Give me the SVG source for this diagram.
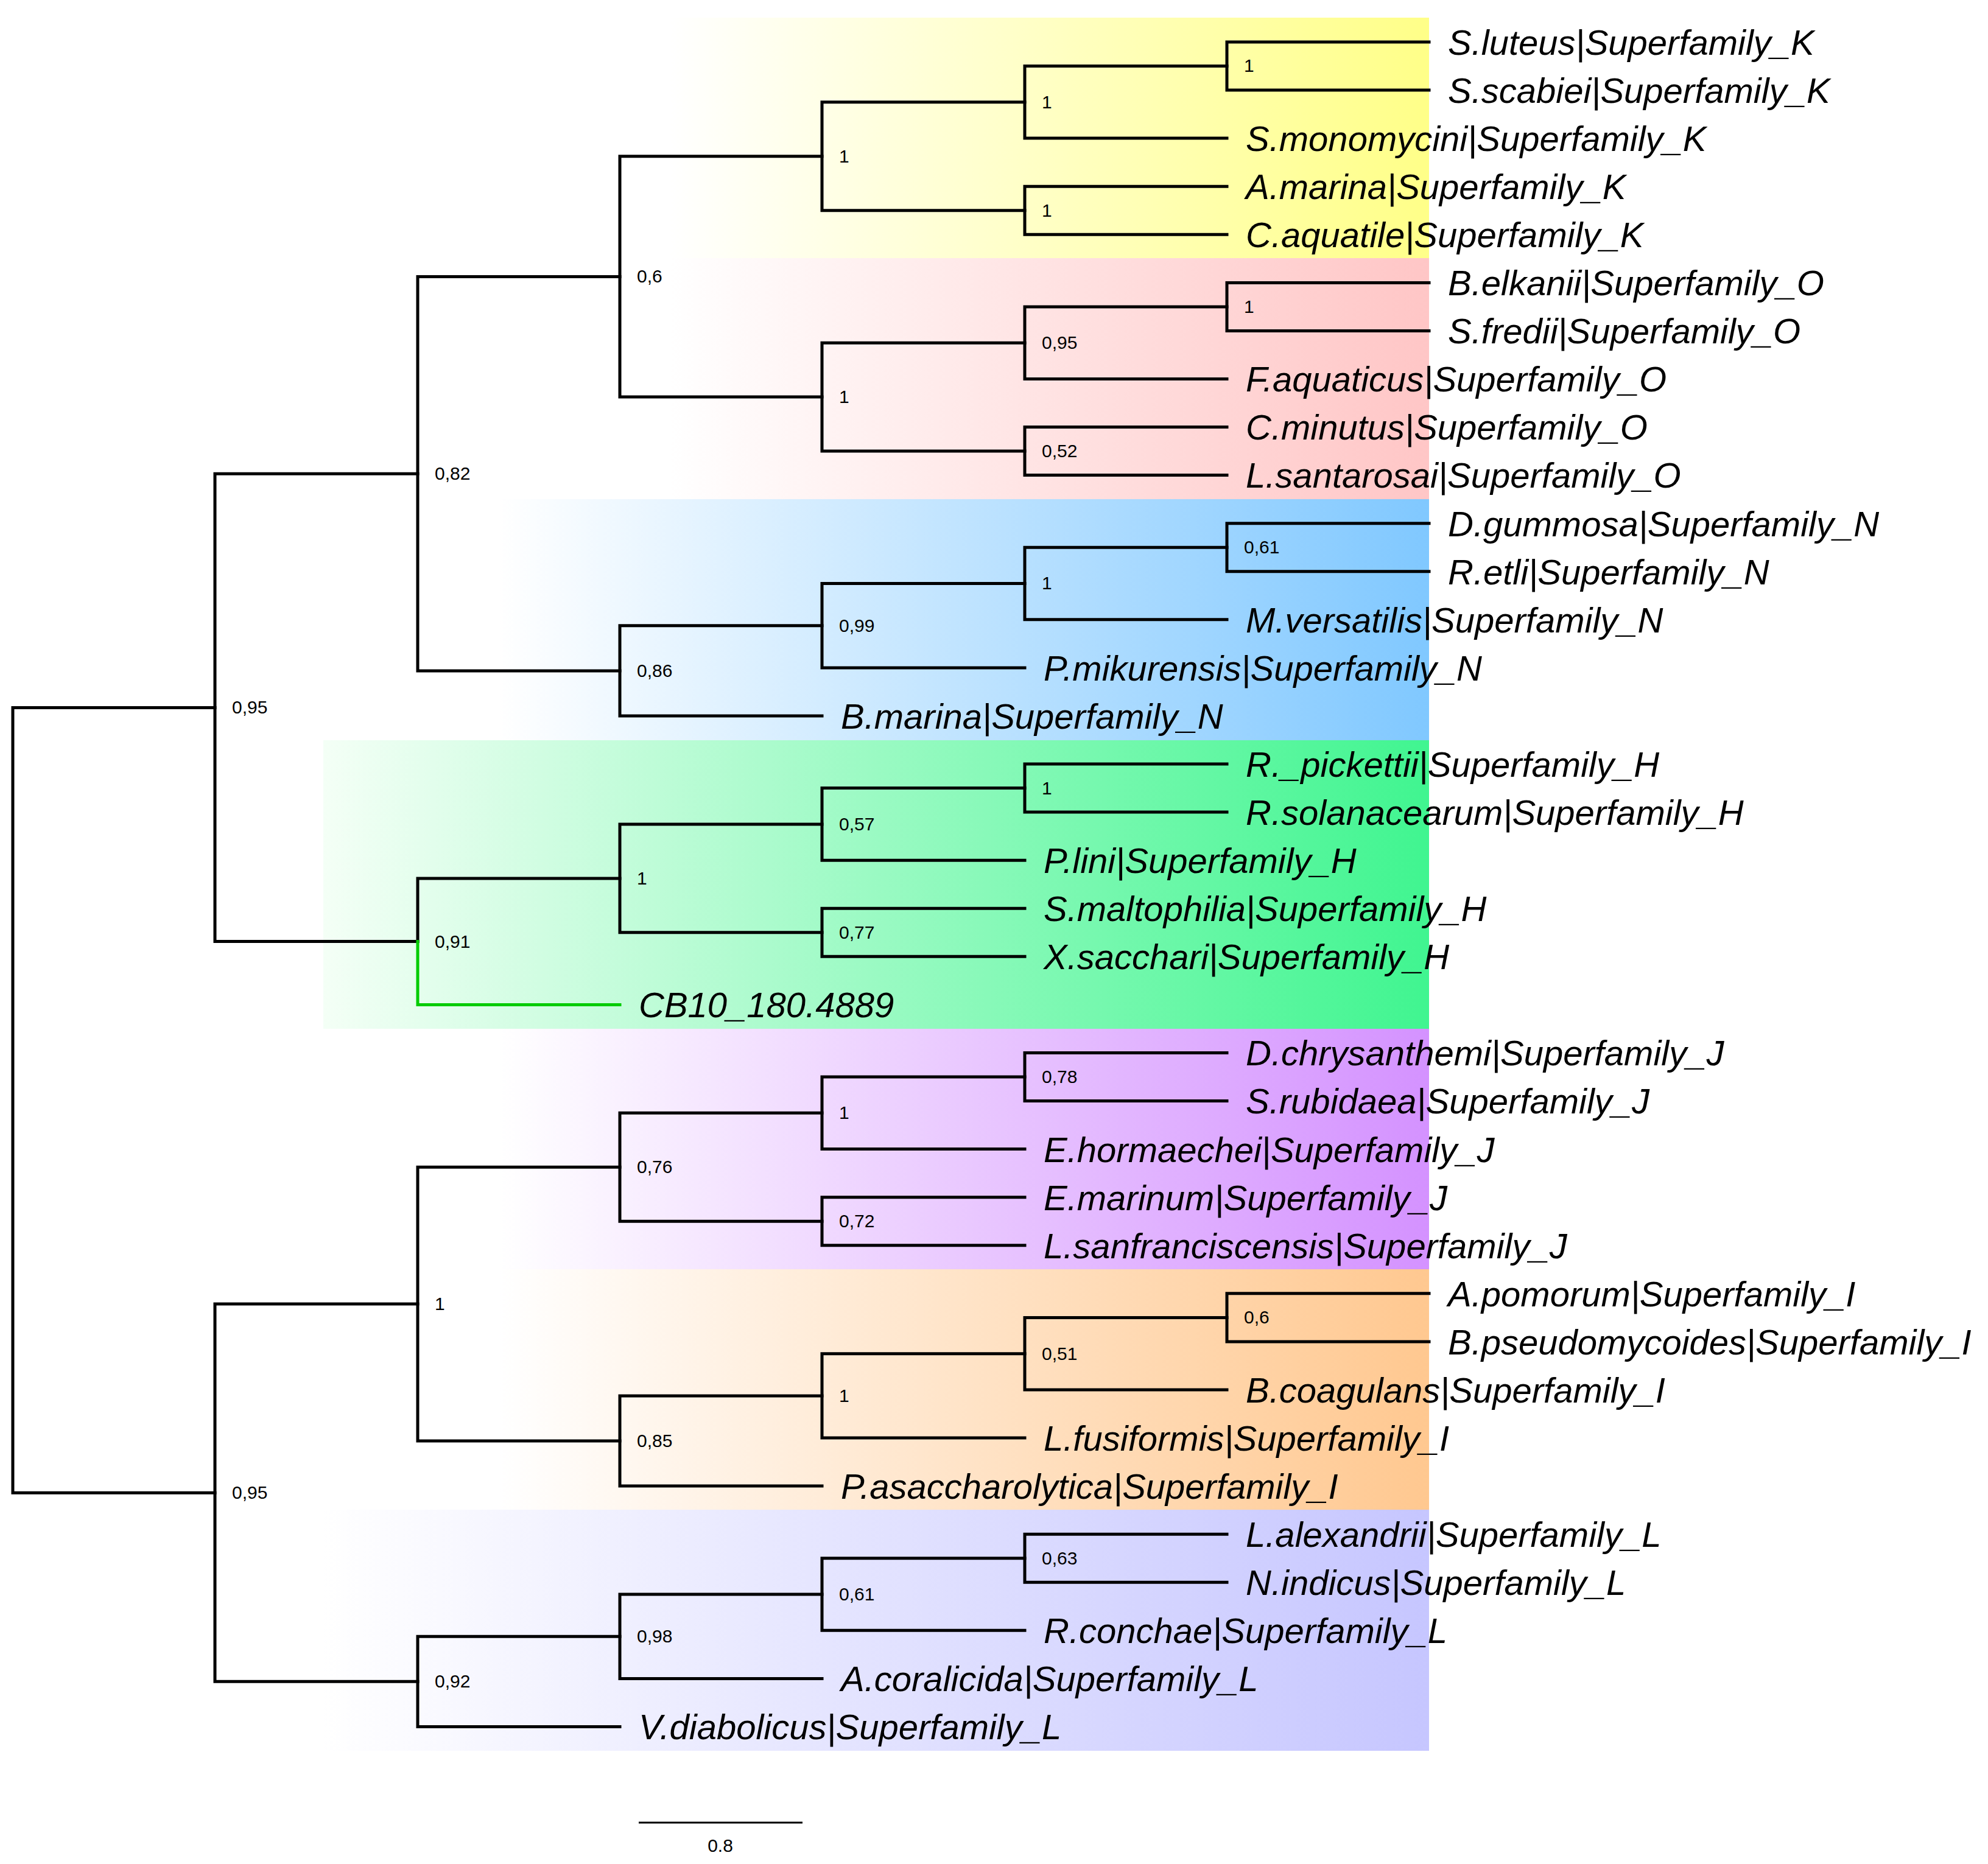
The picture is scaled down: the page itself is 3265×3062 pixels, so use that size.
<svg xmlns="http://www.w3.org/2000/svg" width="3265" height="3062" viewBox="0 0 3265 3062">
<style>
.br{fill:none;stroke:#000;stroke-width:5;stroke-linejoin:miter;stroke-linecap:square}
.grn{fill:none;stroke:#00cc00;stroke-width:5;stroke-linecap:square}
.tip{font-family:"Liberation Sans",Arial,sans-serif;font-style:italic;font-size:58px;fill:#000}
.sup{font-family:"Liberation Sans",Arial,sans-serif;font-size:30px;fill:#000}
</style>
<defs>
<linearGradient id="gK" x1="0" x2="1" y1="0" y2="0"><stop offset="0" stop-color="#ffffff"/><stop offset="1" stop-color="#ffff88"/></linearGradient>
<linearGradient id="gO" x1="0" x2="1" y1="0" y2="0"><stop offset="0" stop-color="#ffffff"/><stop offset="1" stop-color="#ffc6c6"/></linearGradient>
<linearGradient id="gN" x1="0" x2="1" y1="0" y2="0"><stop offset="0" stop-color="#ffffff"/><stop offset="1" stop-color="#80c8ff"/></linearGradient>
<linearGradient id="gH" x1="0" x2="1" y1="0" y2="0"><stop offset="0" stop-color="#f4fff6"/><stop offset="1" stop-color="#40f590"/></linearGradient>
<linearGradient id="gJ" x1="0" x2="1" y1="0" y2="0"><stop offset="0" stop-color="#ffffff"/><stop offset="1" stop-color="#d492ff"/></linearGradient>
<linearGradient id="gI" x1="0" x2="1" y1="0" y2="0"><stop offset="0" stop-color="#ffffff"/><stop offset="1" stop-color="#ffc890"/></linearGradient>
<linearGradient id="gL" x1="0" x2="1" y1="0" y2="0"><stop offset="0" stop-color="#ffffff"/><stop offset="1" stop-color="#c6c6ff"/></linearGradient>
</defs>
<rect x="0" y="0" width="3265" height="3062" fill="#ffffff"/>
<g id="bands">
<rect x="1100" y="29" width="1247" height="395" fill="url(#gK)"/>
<rect x="1100" y="424" width="1247" height="396" fill="url(#gO)"/>
<rect x="820" y="820" width="1527" height="396" fill="url(#gN)"/>
<rect x="531" y="1216" width="1816" height="474" fill="url(#gH)"/>
<rect x="820" y="1690" width="1527" height="395" fill="url(#gJ)"/>
<rect x="820" y="2085" width="1527" height="395" fill="url(#gI)"/>
<rect x="531" y="2480" width="1816" height="396" fill="url(#gL)"/>
</g>
<g id="connectors">
<path class="br" d="M353 1162.4 H21 V2452.2 H353"/>
<path class="br" d="M686 778.2 H353 V1546.6 H686"/>
<path class="br" d="M1018 454.5 H686 V1101.9 H1018"/>
<path class="br" d="M1350 256.8 H1018 V652.1 H1350"/>
<path class="br" d="M1683 167.8 H1350 V345.7 H1683"/>
<path class="br" d="M2015 108.5 H1683 V227.1 H2015"/>
<path class="br" d="M2347 69 H2015 V148.1 H2347"/>
<path class="br" d="M2015 306.2 H1683 V385.3 H2015"/>
<path class="br" d="M1683 563.2 H1350 V741.1 H1683"/>
<path class="br" d="M2015 503.9 H1683 V622.5 H2015"/>
<path class="br" d="M2347 464.4 H2015 V543.4 H2347"/>
<path class="br" d="M2015 701.6 H1683 V780.6 H2015"/>
<path class="br" d="M1350 1027.7 H1018 V1176 H1350"/>
<path class="br" d="M1683 958.5 H1350 V1096.9 H1683"/>
<path class="br" d="M2015 899.2 H1683 V1017.8 H2015"/>
<path class="br" d="M2347 859.7 H2015 V938.8 H2347"/>
<path class="br" d="M1018 1442.9 H686 V1546.6"/>
<path class="grn" d="M686 1546.6 V1650.4 H1018"/>
<path class="br" d="M1350 1353.9 H1018 V1531.8 H1350"/>
<path class="br" d="M1683 1294.6 H1350 V1413.2 H1683"/>
<path class="br" d="M2015 1255.1 H1683 V1334.1 H2015"/>
<path class="br" d="M1683 1492.3 H1350 V1571.3 H1683"/>
<path class="br" d="M686 2142.1 H353 V2762.3 H686"/>
<path class="br" d="M1018 1917.3 H686 V2367 H1018"/>
<path class="br" d="M1350 1828.3 H1018 V2006.2 H1350"/>
<path class="br" d="M1683 1769 H1350 V1887.6 H1683"/>
<path class="br" d="M2015 1729.5 H1683 V1808.5 H2015"/>
<path class="br" d="M1683 1966.7 H1350 V2045.8 H1683"/>
<path class="br" d="M1350 2292.9 H1018 V2441.1 H1350"/>
<path class="br" d="M1683 2223.7 H1350 V2362 H1683"/>
<path class="br" d="M2015 2164.4 H1683 V2283 H2015"/>
<path class="br" d="M2347 2124.8 H2015 V2203.9 H2347"/>
<path class="br" d="M1018 2688.2 H686 V2836.5 H1018"/>
<path class="br" d="M1350 2619 H1018 V2757.4 H1350"/>
<path class="br" d="M1683 2559.7 H1350 V2678.3 H1683"/>
<path class="br" d="M2015 2520.2 H1683 V2599.2 H2015"/>
</g>
<g id="support-values" class="sup">
<g id="n-a"><text x="381" y="1172">0,95</text></g>
<g id="n-b"><text x="381" y="2462">0,95</text></g>
<g id="n-c"><text x="714" y="788">0,82</text></g>
<g id="n-d"><text x="714" y="1557">0,91</text></g>
<g id="n-e"><text x="714" y="2152">1</text></g>
<g id="n-f"><text x="714" y="2772">0,92</text></g>
<g id="n-g"><text x="1046" y="464">0,6</text></g>
<g id="n-h"><text x="1046" y="1112">0,86</text></g>
<g id="n-i"><text x="1046" y="1453">1</text></g>
<g id="n-j"><text x="1046" y="1927">0,76</text></g>
<g id="n-k"><text x="1046" y="2377">0,85</text></g>
<g id="n-l"><text x="1046" y="2698">0,98</text></g>
<g id="n-m"><text x="1378" y="267">1</text></g>
<g id="n-n"><text x="1378" y="662">1</text></g>
<g id="n-o"><text x="1378" y="1038">0,99</text></g>
<g id="n-p"><text x="1378" y="1364">0,57</text></g>
<g id="n-q"><text x="1378" y="1542">0,77</text></g>
<g id="n-r"><text x="1378" y="1838">1</text></g>
<g id="n-s"><text x="1378" y="2016">0,72</text></g>
<g id="n-t"><text x="1378" y="2303">1</text></g>
<g id="n-u"><text x="1378" y="2629">0,61</text></g>
<g id="n-v"><text x="1711" y="178">1</text></g>
<g id="n-w"><text x="1711" y="356">1</text></g>
<g id="n-x"><text x="1711" y="573">0,95</text></g>
<g id="n-y"><text x="1711" y="751">0,52</text></g>
<g id="n-z"><text x="1711" y="968">1</text></g>
<g id="n-aa"><text x="1711" y="1305">1</text></g>
<g id="n-ab"><text x="1711" y="1779">0,78</text></g>
<g id="n-ac"><text x="1711" y="2234">0,51</text></g>
<g id="n-ad"><text x="1711" y="2570">0,63</text></g>
<g id="n-ae"><text x="2043" y="118">1</text></g>
<g id="n-af"><text x="2043" y="514">1</text></g>
<g id="n-ag"><text x="2043" y="909">0,61</text></g>
<g id="n-ah"><text x="2043" y="2174">0,6</text></g>
</g>
<g id="tips" class="tip">
<g id="t0"><text x="2378" y="90">S.luteus|Superfamily_K</text></g>
<g id="t1"><text x="2378" y="169">S.scabiei|Superfamily_K</text></g>
<g id="t2"><text x="2046" y="248">S.monomycini|Superfamily_K</text></g>
<g id="t3"><text x="2046" y="327">A.marina|Superfamily_K</text></g>
<g id="t4"><text x="2046" y="406">C.aquatile|Superfamily_K</text></g>
<g id="t5"><text x="2378" y="485">B.elkanii|Superfamily_O</text></g>
<g id="t6"><text x="2378" y="564">S.fredii|Superfamily_O</text></g>
<g id="t7"><text x="2046" y="643">F.aquaticus|Superfamily_O</text></g>
<g id="t8"><text x="2046" y="722">C.minutus|Superfamily_O</text></g>
<g id="t9"><text x="2046" y="801">L.santarosai|Superfamily_O</text></g>
<g id="t10"><text x="2378" y="881">D.gummosa|Superfamily_N</text></g>
<g id="t11"><text x="2378" y="960">R.etli|Superfamily_N</text></g>
<g id="t12"><text x="2046" y="1039">M.versatilis|Superfamily_N</text></g>
<g id="t13"><text x="1714" y="1118">P.mikurensis|Superfamily_N</text></g>
<g id="t14"><text x="1381" y="1197">B.marina|Superfamily_N</text></g>
<g id="t15"><text x="2046" y="1276">R._pickettii|Superfamily_H</text></g>
<g id="t16"><text x="2046" y="1355">R.solanacearum|Superfamily_H</text></g>
<g id="t17"><text x="1714" y="1434">P.lini|Superfamily_H</text></g>
<g id="t18"><text x="1714" y="1513">S.maltophilia|Superfamily_H</text></g>
<g id="t19"><text x="1714" y="1592">X.sacchari|Superfamily_H</text></g>
<g id="t20"><text x="1049" y="1671">CB10_180.4889</text></g>
<g id="t21"><text x="2046" y="1750">D.chrysanthemi|Superfamily_J</text></g>
<g id="t22"><text x="2046" y="1829">S.rubidaea|Superfamily_J</text></g>
<g id="t23"><text x="1714" y="1909">E.hormaechei|Superfamily_J</text></g>
<g id="t24"><text x="1714" y="1988">E.marinum|Superfamily_J</text></g>
<g id="t25"><text x="1714" y="2067">L.sanfranciscensis|Superfamily_J</text></g>
<g id="t26"><text x="2378" y="2146">A.pomorum|Superfamily_I</text></g>
<g id="t27"><text x="2378" y="2225">B.pseudomycoides|Superfamily_I</text></g>
<g id="t28"><text x="2046" y="2304">B.coagulans|Superfamily_I</text></g>
<g id="t29"><text x="1714" y="2383">L.fusiformis|Superfamily_I</text></g>
<g id="t30"><text x="1381" y="2462">P.asaccharolytica|Superfamily_I</text></g>
<g id="t31"><text x="2046" y="2541">L.alexandrii|Superfamily_L</text></g>
<g id="t32"><text x="2046" y="2620">N.indicus|Superfamily_L</text></g>
<g id="t33"><text x="1714" y="2699">R.conchae|Superfamily_L</text></g>
<g id="t34"><text x="1381" y="2778">A.coralicida|Superfamily_L</text></g>
<g id="t35"><text x="1049" y="2857">V.diabolicus|Superfamily_L</text></g>
</g>
<g id="scale-bar">
<line x1="1049" y1="2994" x2="1318" y2="2994" stroke="#000" stroke-width="3"/>
<text class="sup" x="1183" y="3042" text-anchor="middle">0.8</text>
</g>
</svg>
